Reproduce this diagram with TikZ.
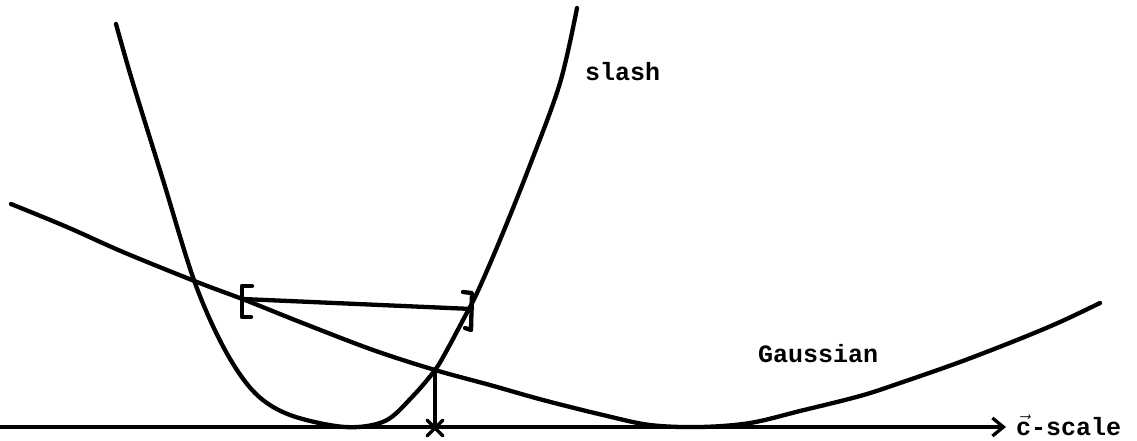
\documentclass[tikz,border=0pt]{standalone}
\usepackage{fontspec}
\newfontfamily\tw{Liberation Mono}
\usetikzlibrary{arrows.meta}
\tikzset{
  curve/.style={line width=4.3pt, line cap=round, line join=round},
  thin line/.style={line width=3.3pt, line cap=round, line join=round},
  lbl/.style={font=\tw\bfseries\fontsize{25}{30}\selectfont, inner sep=0pt, anchor=base west}
}
\begin{document}
\begin{tikzpicture}[x=1pt,y=-1pt]
\useasboundingbox (0,0) rectangle (1137,440);
% axis
\coordinate (axL) at (0,427);
\coordinate (axR) at (1006,427);
\draw[thin line,-{Straight Barb[length=11pt,width=18pt,line width=3.3pt]}] (axL) -- (axR);
\node[lbl] (clabel) at (1016,435) {$\vec{\mbox{c}}$-scale};
% slash curve
\draw[curve] plot[smooth,tension=0.55] coordinates {(116,24) (132,80) (163,180) (195,283) (225,350) (255,393) (290,415) (345,427) (385,421) (413,396) (435,370) (447,350) (463,320) (477,293) (500,240) (530,165) (560,83) (577,8)};
\node[lbl] (slash) at (585,80) {slash};
% Gaussian curve
\draw[curve] plot[smooth,tension=0.55] coordinates {(11,204) (67,227) (123,252) (197,282) (245,300) (300,322) (373,350) (435,370) (490,385) (543,400) (603,415) (650,425) (700,427) (750,423) (800,411) (860,396) (900,383) (960,362) (1017,340) (1060,322) (1100,303)};
\node[lbl] (gauss) at (758,362) {Gaussian};
% interval bracket
\coordinate (bl) at (243,299);
\coordinate (br) at (472,309);
\draw[curve] (bl) -- (br);
\draw[curve] (252,286) -- (242,286) -- (242,317) -- (251,317);
\draw[curve] (463,292) -- (472,293) -- (471,330) -- (465,328);
% intersection drop
\coordinate (X) at (435,370);
\coordinate (Xb) at (435,428);
\draw[thin line] (X) -- (Xb);
\draw[thin line] ([shift={(-8,-8)}]Xb) -- ([shift={(8,8)}]Xb);
\draw[thin line] ([shift={(8,-8)}]Xb) -- ([shift={(-8,8)}]Xb);
\end{tikzpicture}
\end{document}
